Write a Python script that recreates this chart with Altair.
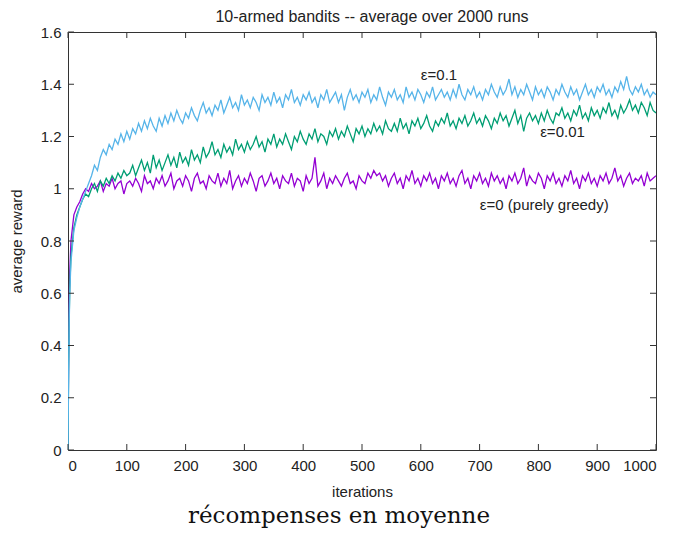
import altair as alt
import pandas as pd

# ---------------- data ----------------
iterations = [0, 1, 2, 3] + list(range(5, 1001, 5))

greedy = [0.00, 0.35, 0.55, 0.68,
          0.80, 0.90, 0.93, 0.95, 0.98, 1.00, 0.99, 1.02, 1.00, 1.01,
          1.03, 0.99, 1.02, 1.01, 1.04, 1.00, 1.02, 1.03, 0.98, 1.02,
          1.03, 1.01, 1.04, 1.02, 0.99, 1.05, 1.02, 1.03, 1.00, 1.04,
          1.02, 1.05, 1.01, 1.03, 1.06, 1.00, 1.03, 1.04, 1.01, 1.05,
          1.03, 0.99, 1.04, 1.06, 1.02, 1.03, 1.00, 1.05, 1.03, 1.02,
          1.06, 1.01, 1.04, 1.02, 1.07, 1.00, 1.03, 1.05, 1.01, 1.04,
          1.02, 1.06, 1.03, 0.99, 1.04, 1.05, 1.01, 1.03, 1.06, 1.02,
          1.04, 1.00, 1.05, 1.03, 1.02, 1.06, 1.01, 1.04, 1.03, 0.99,
          1.05, 1.02, 1.04, 1.12, 1.01, 1.03, 1.06, 1.00, 1.04, 1.02,
          1.05, 1.03, 1.01, 1.04, 1.06, 1.02, 1.03, 1.00, 1.05, 1.03,
          1.02, 1.06, 1.04, 1.07, 1.05, 1.06, 1.03, 1.05, 1.01, 1.04,
          1.06, 1.02, 1.04, 1.00, 1.05, 1.03, 1.07, 1.02, 1.04, 1.01,
          1.05, 1.03, 1.06, 1.02, 1.04, 1.00, 1.05, 1.03, 1.06, 1.02,
          1.04, 1.01, 1.05, 1.07, 1.02, 1.04, 1.00, 1.05, 1.03, 1.06,
          1.02, 1.04, 1.01, 1.06, 1.03, 1.05, 1.02, 1.04, 1.00, 1.05,
          1.03, 1.06, 1.02, 1.04, 1.08, 1.01, 1.05, 1.03, 1.02, 1.06,
          1.04, 1.00, 1.05, 1.03, 1.06, 1.02, 1.04, 1.01, 1.05, 1.03,
          1.07, 1.02, 1.04, 1.00, 1.05, 1.03, 1.06, 1.02, 1.04, 1.01,
          1.05, 1.03, 1.06, 1.02, 1.04, 1.08, 1.03, 1.05, 1.01, 1.04,
          1.06, 1.02, 1.04, 1.03, 1.05, 1.01, 1.06, 1.03, 1.04, 1.05]

eps_001 = [0.00, 0.30, 0.50, 0.62,
           0.74, 0.85, 0.90, 0.93, 0.96, 0.98, 0.97, 1.00, 1.02, 0.99,
           1.03, 1.01, 1.04, 1.02, 1.05, 1.03, 1.06, 1.04, 1.07, 1.05,
           1.06, 1.09, 1.05, 1.08, 1.11, 1.07, 1.10, 1.06, 1.13, 1.08,
           1.11, 1.07, 1.10, 1.13, 1.09, 1.12, 1.08, 1.14, 1.10, 1.12,
           1.09, 1.15, 1.11, 1.13, 1.10, 1.16, 1.12, 1.14, 1.18, 1.13,
           1.15, 1.12, 1.17, 1.14, 1.16, 1.13, 1.19, 1.15, 1.17, 1.14,
           1.18, 1.15, 1.17, 1.20, 1.16, 1.18, 1.14, 1.19, 1.17, 1.21,
           1.16, 1.19, 1.17, 1.21, 1.18, 1.15, 1.20, 1.18, 1.22, 1.19,
           1.17, 1.21, 1.19, 1.23, 1.18, 1.21, 1.20, 1.17, 1.22, 1.20,
           1.23, 1.19, 1.22, 1.20, 1.24, 1.21, 1.18, 1.23, 1.21, 1.24,
           1.20, 1.23, 1.21, 1.25, 1.22, 1.24, 1.21, 1.26, 1.23, 1.22,
           1.25, 1.22, 1.27, 1.23, 1.25, 1.21, 1.26, 1.24, 1.27, 1.23,
           1.25, 1.28, 1.24, 1.22, 1.26, 1.24, 1.27, 1.25, 1.29, 1.24,
           1.26, 1.23, 1.27, 1.25, 1.28, 1.24, 1.26, 1.29, 1.25, 1.27,
           1.24, 1.28, 1.26, 1.23, 1.27, 1.25, 1.29, 1.26, 1.28, 1.24,
           1.27, 1.30, 1.25, 1.28, 1.22, 1.27, 1.29, 1.26, 1.28, 1.25,
           1.29, 1.26, 1.30, 1.27, 1.25, 1.29, 1.28, 1.31, 1.27, 1.29,
           1.26, 1.30, 1.28, 1.32, 1.27, 1.29, 1.26, 1.31, 1.28, 1.30,
           1.27, 1.31, 1.29, 1.33, 1.28, 1.30, 1.27, 1.32, 1.29, 1.31,
           1.34, 1.30, 1.32, 1.29, 1.33, 1.31, 1.28, 1.33, 1.30, 1.29]

eps_01 = [0.00, 0.28, 0.48, 0.60,
          0.72, 0.84, 0.89, 0.93, 0.96, 0.99, 1.02, 1.05, 1.09, 1.07,
          1.12, 1.15, 1.13, 1.17, 1.15, 1.19, 1.17, 1.21, 1.18, 1.22,
          1.19, 1.23, 1.21, 1.25, 1.22, 1.26, 1.23, 1.27, 1.24, 1.22,
          1.27, 1.24, 1.28, 1.25, 1.29, 1.26, 1.30, 1.27, 1.25, 1.29,
          1.27, 1.31, 1.28, 1.26, 1.30, 1.33, 1.29, 1.31, 1.28, 1.32,
          1.30, 1.34, 1.29, 1.32, 1.35, 1.31, 1.33, 1.30, 1.36, 1.32,
          1.34, 1.31, 1.35, 1.33, 1.30, 1.36, 1.33, 1.35, 1.32, 1.37,
          1.33, 1.35, 1.31, 1.36, 1.34, 1.38, 1.33, 1.35, 1.32, 1.36,
          1.34, 1.37, 1.33, 1.35, 1.31, 1.36, 1.34, 1.38, 1.33, 1.35,
          1.37, 1.33, 1.36, 1.30, 1.35, 1.38, 1.34, 1.36, 1.33, 1.37,
          1.35, 1.38, 1.33, 1.36, 1.34, 1.39, 1.35, 1.32, 1.37, 1.35,
          1.38, 1.34, 1.36, 1.33, 1.39, 1.35, 1.37, 1.34, 1.38, 1.36,
          1.33, 1.37, 1.35, 1.39, 1.34, 1.36, 1.38, 1.35, 1.37, 1.34,
          1.38, 1.35, 1.40, 1.36, 1.34, 1.38, 1.36, 1.39, 1.35, 1.37,
          1.34, 1.38, 1.36, 1.40, 1.37, 1.35, 1.39, 1.36, 1.38, 1.42,
          1.36, 1.39, 1.35, 1.38, 1.36, 1.40, 1.37, 1.34, 1.39, 1.36,
          1.38, 1.35, 1.39, 1.37, 1.34, 1.38, 1.36, 1.40, 1.37, 1.35,
          1.39, 1.36, 1.38, 1.34, 1.37, 1.40, 1.36, 1.38, 1.35, 1.39,
          1.37, 1.40, 1.36, 1.38, 1.35, 1.39, 1.37, 1.41, 1.38, 1.43,
          1.38, 1.36, 1.39, 1.37, 1.40, 1.36, 1.38, 1.35, 1.37, 1.36]

series_names = ["ε=0", "ε=0.01", "ε=0.1"]
series_colors = ["#9400d3", "#009e73", "#56b4e9"]

label_texts = ["ε=0.1", "ε=0.01", "ε=0 (purely greedy)"]
label_x = [631, 841, 810]
label_y = [1.437, 1.219, 0.939]

x_ticks = [0, 100, 200, 300, 400, 500, 600, 700, 800, 900, 1000]
y_ticks = [0, 0.2, 0.4, 0.6, 0.8, 1.0, 1.2, 1.4, 1.6]

title_text = "10-armed bandits -- average over 2000 runs"
caption_text = "récompenses en moyenne"

assert len(iterations) == len(greedy) == len(eps_001) == len(eps_01)

# ---------------- build tables ----------------
rows = []
for name, vals in zip(series_names, [greedy, eps_001, eps_01]):
    for it, v in zip(iterations, vals):
        rows.append({"iteration": it, "reward": v, "series": name})
df = pd.DataFrame(rows)

labels_df = pd.DataFrame({"text": label_texts, "iteration": label_x, "reward": label_y})
xt_df = pd.DataFrame({"v": x_ticks})
yt_df = pd.DataFrame({"v": y_ticks})

W, H = 588, 418
FONT = "Liberation Sans"
TXT = "#222222"
FRAME = "#333333"

xs = alt.Scale(domain=[0, 1000], nice=False, zero=False)
ys = alt.Scale(domain=[0, 1.6], nice=False, zero=False)

lines = alt.Chart(df).mark_line(strokeWidth=1.3, clip=True).encode(
    x=alt.X("iteration:Q", scale=xs,
            axis=alt.Axis(values=x_ticks, title="iterations", format="d",
                          labelPadding=8, titlePadding=11)),
    y=alt.Y("reward:Q", scale=ys,
            axis=alt.Axis(values=y_ticks, title="average reward", format="~g",
                          labelPadding=7, titlePadding=16)),
    color=alt.Color("series:N",
                    scale=alt.Scale(domain=series_names, range=series_colors),
                    legend=None),
)

labels = alt.Chart(labels_df).mark_text(
    font=FONT, fontSize=15, color=TXT, align="center", baseline="middle"
).encode(
    x=alt.X("iteration:Q", scale=xs),
    y=alt.Y("reward:Q", scale=ys),
    text="text:N",
)

tick_bottom = alt.Chart(xt_df).mark_rule(color=FRAME, strokeWidth=1).encode(
    x=alt.X("v:Q", scale=xs), y=alt.value(H), y2=alt.value(H - 6))
tick_top = alt.Chart(xt_df).mark_rule(color=FRAME, strokeWidth=1).encode(
    x=alt.X("v:Q", scale=xs), y=alt.value(0), y2=alt.value(6))
tick_left = alt.Chart(yt_df).mark_rule(color=FRAME, strokeWidth=1).encode(
    y=alt.Y("v:Q", scale=ys), x=alt.value(0), x2=alt.value(6))
tick_right = alt.Chart(yt_df).mark_rule(color=FRAME, strokeWidth=1).encode(
    y=alt.Y("v:Q", scale=ys), x=alt.value(W - 6), x2=alt.value(W))

title = alt.Chart(pd.DataFrame({"t": [title_text]})).mark_text(
    font=FONT, fontSize=16, color=TXT, align="center", baseline="middle"
).encode(x=alt.value(304), y=alt.value(-15), text="t:N")

caption = alt.Chart(pd.DataFrame({"t": [caption_text]})).mark_text(
    font="DejaVu Serif", fontSize=23, color="#111111", align="center", baseline="middle"
).encode(x=alt.value(271), y=alt.value(484), text="t:N")

chart = alt.layer(
    lines, tick_bottom, tick_top, tick_left, tick_right, labels, title, caption
).properties(
    width=W, height=H,
    padding={"left": 60, "top": 24, "right": 13, "bottom": 79},
    autosize=alt.AutoSizeParams(type="none"),
    background="white",
).configure_view(
    stroke=FRAME, strokeWidth=1
).configure_axis(
    grid=False, ticks=False, domain=False,
    labelFont=FONT, labelFontSize=15, labelColor=TXT,
    titleFont=FONT, titleFontSize=15, titleColor=TXT, titleFontWeight="normal",
)

chart.save("out.html", embed_options={"renderer": "svg", "actions": False})
